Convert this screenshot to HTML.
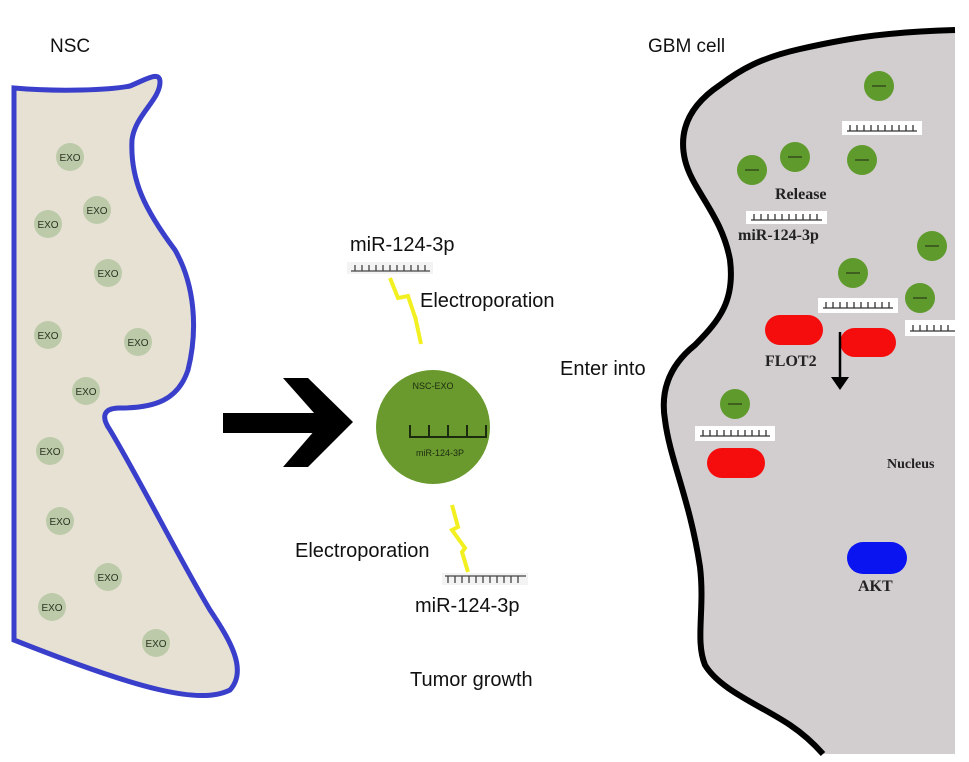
<!DOCTYPE html>
<html><head><meta charset="utf-8"><style>
body{margin:0;background:#fff;}
svg{display:block}
</style></head><body>
<svg width="969" height="762" viewBox="0 0 969 762" xmlns="http://www.w3.org/2000/svg" font-family="Liberation Sans, sans-serif">
<path d="M955 30 C880 32 840 40 800 49 C760 58 740 70 720 85 C690 105 678 130 685 160 C692 190 722 215 730 260 C735 300 720 320 695 345 C670 365 660 390 665 420 C670 460 690 500 700 567 C705 610 695 640 705 665 C720 690 760 705 790 725 C805 735 815 745 823 754 L955 754 Z" fill="#d2cecf"/>
<path d="M955 30 C880 32 840 40 800 49 C760 58 740 70 720 85 C690 105 678 130 685 160 C692 190 722 215 730 260 C735 300 720 320 695 345 C670 365 660 390 665 420 C670 460 690 500 700 567 C705 610 695 640 705 665 C720 690 760 705 790 725 C805 735 815 745 823 754" fill="none" stroke="#000" stroke-width="6"/>
<path d="M14 88 C60 92 110 90 130 86 C145 80 160 70 160 82 C160 100 135 115 132 140 C130 180 145 210 175 250 C195 285 198 330 188 370 C178 400 155 408 120 408 C100 408 103 420 110 430 C140 480 180 560 210 610 C230 640 248 670 230 690 C200 705 140 690 14 640 Z" fill="#e6e1d2" stroke="#3a3fcb" stroke-width="5"/>
<g fill="#bccaa9">
<circle cx="70" cy="157" r="14"/><circle cx="48" cy="224" r="14"/><circle cx="97" cy="210" r="14"/><circle cx="108" cy="273" r="14"/><circle cx="48" cy="335" r="14"/><circle cx="138" cy="342" r="14"/><circle cx="86" cy="391" r="14"/><circle cx="50" cy="451" r="14"/><circle cx="60" cy="521" r="14"/><circle cx="108" cy="577" r="14"/><circle cx="52" cy="607" r="14"/><circle cx="156" cy="643" r="14"/>
</g>
<g font-size="10" fill="#2a3320" text-anchor="middle">
<text x="70" y="161">EXO</text><text x="48" y="228">EXO</text><text x="97" y="214">EXO</text><text x="108" y="277">EXO</text><text x="48" y="339">EXO</text><text x="138" y="346">EXO</text><text x="86" y="395">EXO</text><text x="50" y="455">EXO</text><text x="60" y="525">EXO</text><text x="108" y="581">EXO</text><text x="52" y="611">EXO</text><text x="156" y="647">EXO</text>
</g>
<text x="50" y="52" font-size="19" fill="#111">NSC</text>
<text x="648" y="52" font-size="19" fill="#111">GBM cell</text>
<rect x="223" y="413" width="100" height="20" fill="#000"/>
<polygon points="283,378 308,378 353,422 308,467 283,467 322,422" fill="#000"/>
<circle cx="433" cy="427" r="57" fill="#6a9a2e"/>
<text x="433" y="389" font-size="9" fill="#1c2a10" text-anchor="middle">NSC-EXO</text>
<path d="M410 425 V437 H486 V425 M429 425 V437 M448 425 V437 M467 425 V437" fill="none" stroke="#1c2a10" stroke-width="2"/>
<text x="440" y="456" font-size="9" fill="#1c2a10" text-anchor="middle">miR-124-3P</text>
<text x="350" y="251" font-size="20" fill="#111">miR-124-3p</text>
<rect x="347" y="262" width="86" height="12" fill="#f3f3f3"/>
<path d="M351 271 H430 M355 265 V271 M362 265 V271 M369 265 V271 M376 265 V271 M383 265 V271 M390 265 V271 M397 265 V271 M404 265 V271 M411 265 V271 M418 265 V271 M425 265 V271" stroke="#444" stroke-width="1.3" fill="none"/>
<polyline points="390,278 398,298 408,296 416,320 415,316 421,344" fill="none" stroke="#f2f020" stroke-width="4"/>
<text x="420" y="307" font-size="20" fill="#111">Electroporation</text>
<text x="295" y="557" font-size="20" fill="#111">Electroporation</text>
<polyline points="452,505 458,527 452,530 465,548 462,552 468,572" fill="none" stroke="#f2f020" stroke-width="4"/>
<rect x="442" y="573" width="86" height="12" fill="#f3f3f3"/>
<path d="M445 576 H526 M448 576 V583 M455 576 V583 M462 576 V583 M469 576 V583 M476 576 V583 M483 576 V583 M490 576 V583 M497 576 V583 M504 576 V583 M511 576 V583 M518 576 V583" stroke="#444" stroke-width="1.3" fill="none"/>
<text x="415" y="612" font-size="20" fill="#111">miR-124-3p</text>
<text x="410" y="686" font-size="20" fill="#111">Tumor growth</text>
<text x="560" y="375" font-size="20" fill="#111">Enter into</text>
<g fill="#5f9a2c">
<circle cx="879" cy="86" r="15"/><circle cx="752" cy="170" r="15"/><circle cx="795" cy="157" r="15"/><circle cx="862" cy="160" r="15"/><circle cx="932" cy="246" r="15"/><circle cx="853" cy="273" r="15"/><circle cx="920" cy="298" r="15"/><circle cx="735" cy="404" r="15"/>
</g>
<g stroke="#2a3a1a" stroke-width="1.2">
<line x1="872" y1="86" x2="886" y2="86"/><line x1="745" y1="170" x2="759" y2="170"/><line x1="788" y1="157" x2="802" y2="157"/><line x1="855" y1="160" x2="869" y2="160"/><line x1="925" y1="246" x2="939" y2="246"/><line x1="846" y1="273" x2="860" y2="273"/><line x1="913" y1="298" x2="927" y2="298"/><line x1="728" y1="404" x2="742" y2="404"/>
</g>
<g fill="#fff">
<rect x="842" y="121" width="80" height="14"/><rect x="746" y="211" width="81" height="13"/><rect x="818" y="298" width="80" height="15"/><rect x="905" y="320" width="50" height="16"/><rect x="695" y="426" width="80" height="15"/>
</g>
<g fill="none" stroke="#333" stroke-width="1.3">
<path d="M847 131 H917 M850 125 V131 M857 125 V131 M864 125 V131 M871 125 V131 M878 125 V131 M885 125 V131 M892 125 V131 M899 125 V131 M906 125 V131 M913 125 V131"/>
<path d="M751 220 H822 M754 214 V220 M761 214 V220 M768 214 V220 M775 214 V220 M782 214 V220 M789 214 V220 M796 214 V220 M803 214 V220 M810 214 V220 M817 214 V220"/>
<path d="M823 308 H893 M826 302 V308 M833 302 V308 M840 302 V308 M847 302 V308 M854 302 V308 M861 302 V308 M868 302 V308 M875 302 V308 M882 302 V308 M889 302 V308"/>
<path d="M910 331 H955 M913 325 V331 M920 325 V331 M927 325 V331 M934 325 V331 M941 325 V331 M948 325 V331"/>
<path d="M700 436 H770 M703 430 V436 M710 430 V436 M717 430 V436 M724 430 V436 M731 430 V436 M738 430 V436 M745 430 V436 M752 430 V436 M759 430 V436 M766 430 V436"/>
</g>
<g fill="#f50c0c">
<rect x="765" y="315" width="58" height="30" rx="15"/><rect x="840" y="328" width="56" height="29" rx="14.5"/><rect x="707" y="448" width="58" height="30" rx="15"/>
</g>
<rect x="847" y="542" width="60" height="32" rx="16" fill="#0a14f0"/>
<line x1="840" y1="332" x2="840" y2="380" stroke="#000" stroke-width="2.5"/>
<polygon points="831,377 849,377 840,390" fill="#000"/>
<g font-family="Liberation Serif, serif" font-weight="bold" fill="#222">
<text x="775" y="199" font-size="16">Release</text>
<text x="738" y="240" font-size="16">miR-124-3p</text>
<text x="765" y="366" font-size="16">FLOT2</text>
<text x="887" y="468" font-size="14">Nucleus</text>
<text x="858" y="591" font-size="16">AKT</text>
</g>
</svg>
</body></html>
